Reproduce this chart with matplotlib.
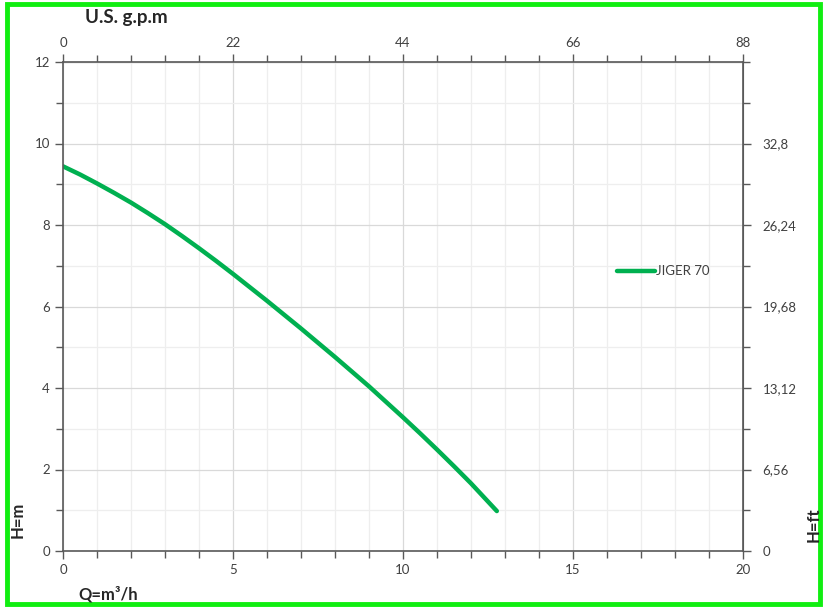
import matplotlib
matplotlib.use("Agg")
import matplotlib.pyplot as plt
from matplotlib.patches import Rectangle
from matplotlib.ticker import MultipleLocator, FixedLocator, FuncFormatter

plt.rcParams['font.family'] = ['Lato', 'DejaVu Sans']

# pump curve (m3/h, m)
flow = [0, 0.5, 1, 1.5, 2, 2.5, 3, 3.5, 4, 4.5, 5, 5.5, 6, 6.5,
        7, 7.5, 8, 8.5, 9, 9.5, 10, 10.5, 11, 11.5, 12, 12.76]
head = [9.44, 9.24, 9.02, 8.79, 8.55, 8.29, 8.02, 7.73, 7.43, 7.12, 6.80, 6.47, 6.14, 5.80,
        5.46, 5.11, 4.76, 4.40, 4.04, 3.66, 3.28, 2.89, 2.49, 2.08, 1.66, 0.98]
series_name = "JIGER 70"

gpm_ticks = [0, 22, 44, 66, 88]
ft_ticks = [0, 6.56, 13.12, 19.68, 26.24, 32.8]

GPM = 4.4    # US gpm per m3/h
FT = 3.28    # ft per m

txt = '#404040'
axc = '#595959'
green = '#00b050'

fig = plt.figure(figsize=(8.24, 6.08), dpi=100)
ax = fig.add_axes([63 / 824, 1 - 551 / 608, 680 / 824, 489 / 608])

ax.plot(flow, head, color=green, lw=3.2, solid_capstyle='round', solid_joinstyle='round')

ax.set_xlim(0, 20)
ax.set_ylim(0, 12)
ax.xaxis.set_major_locator(MultipleLocator(5))
ax.xaxis.set_minor_locator(MultipleLocator(1))
ax.yaxis.set_major_locator(MultipleLocator(2))
ax.yaxis.set_minor_locator(MultipleLocator(1))
ax.grid(which='major', color='#d9d9d9', lw=0.9)
ax.grid(which='minor', color='#eeeeee', lw=0.9)
ax.set_axisbelow(True)

for s in ax.spines.values():
    s.set_color(axc)
    s.set_linewidth(1.2)

ax.tick_params(which='both', direction='out', color=axc, labelcolor=txt,
               labelsize=9.5, width=1.0)
ax.tick_params(which='major', length=6)
ax.tick_params(which='minor', length=5)

# top axis in gpm
top = ax.secondary_xaxis('top', functions=(lambda q: q * GPM, lambda g: g / GPM))
top.xaxis.set_major_locator(FixedLocator(gpm_ticks))
top.xaxis.set_minor_locator(MultipleLocator(GPM))
top.tick_params(which='both', direction='out', color=axc, labelcolor=txt,
                labelsize=9.5, width=1.0)
top.tick_params(which='major', length=6)
top.tick_params(which='minor', length=5)
top.spines['top'].set_color(axc)

# right axis in ft
right = ax.secondary_yaxis('right', functions=(lambda h: h * FT, lambda f: f / FT))
right.yaxis.set_major_locator(FixedLocator(ft_ticks))
right.yaxis.set_minor_locator(MultipleLocator(FT))
right.yaxis.set_major_formatter(FuncFormatter(lambda v, p: f"{v:g}".replace('.', ',')))
right.tick_params(which='both', direction='out', color=axc, labelcolor=txt,
                  labelsize=9.5, width=1.0, pad=8)
right.tick_params(which='major', length=6)
right.tick_params(which='minor', length=5)
right.spines['right'].set_color(axc)

# legend drawn inside the plot like the original
ax.plot([16.3, 17.4], [6.87, 6.87], color=green, lw=3.2, solid_capstyle='round')
ax.text(17.45, 6.87, series_name, color=txt, fontsize=9.5, va='center', ha='left')

fig.text(126 / 824, 1 - 17 / 608, "U.S. g.p.m", fontsize=13.5, fontweight='bold',
         color='#262626', ha='center', va='center')
fig.text(108 / 824, 1 - 594 / 608, "Q=m³/h", fontsize=12, fontweight='bold',
         color='#262626', ha='center', va='center')
fig.text(18 / 824, 1 - 520 / 608, "H=m", fontsize=12, fontweight='bold',
         color='#262626', ha='center', va='center', rotation=90)
fig.text(814 / 824, 1 - 525 / 608, "H=ft", fontsize=12, fontweight='bold',
         color='#262626', ha='center', va='center', rotation=90)

# bright green frame round the picture
fig.patches.append(Rectangle((7 / 824, 4 / 608), 813 / 824, 600 / 608,
                             transform=fig.transFigure, fill=False,
                             edgecolor='#11ee11', lw=3.5))

fig.savefig("out.png", dpi=100)
